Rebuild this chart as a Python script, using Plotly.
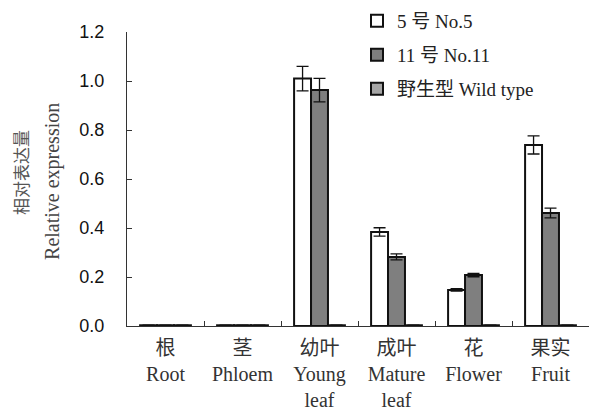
import plotly.graph_objects as go

# Tissue categories (Chinese / English)
categories = ["根<br>Root", "茎<br>Phloem", "幼叶<br>Young<br>leaf",
              "成叶<br>Mature<br>leaf", "花<br>Flower", "果实<br>Fruit"]

# Relative expression per line, with standard errors
no5_values = [0.003, 0.003, 1.01, 0.384, 0.147, 0.739]
no5_errors = [0.0, 0.0, 0.05, 0.017, 0.005, 0.037]
no11_values = [0.003, 0.003, 0.963, 0.282, 0.208, 0.461]
no11_errors = [0.0, 0.0, 0.048, 0.012, 0.007, 0.02]
wild_values = [0.003, 0.003, 0.003, 0.003, 0.003, 0.003]
wild_errors = [0.0, 0.0, 0.0, 0.0, 0.0, 0.0]

y_ticks = [0.0, 0.2, 0.4, 0.6, 0.8, 1.0, 1.2]

series = [
    ("5 号 No.5", no5_values, no5_errors, "#ffffff", "legend"),
    ("11 号 No.11", no11_values, no11_errors, "#7f7f7f", "legend2"),
    ("野生型 Wild type", wild_values, wild_errors, "#a6a6a6", "legend3"),
]

serif = "Liberation Serif, Times New Roman, Noto Sans CJK SC, serif"
sans = "Liberation Sans, Arial, sans-serif"
W, H = 592, 411
ML, MR, MT, MB = 127, 3, 32, 85
PW, PH = W - ML - MR, H - MT - MB

fig = go.Figure()
for name, vals, errs, color, leg in series:
    fig.add_trace(go.Bar(
        name=name, x=categories, y=vals, legend=leg,
        marker=dict(color=color, line=dict(color="#111111", width=2)),
        error_y=dict(type="data", array=errs, color="#111111",
                     thickness=1.3, width=6, visible=True),
    ))

# one legend box per series, stacked with wide spacing (pixel rows)
legend_rows = [21, 55, 89]


def legend_box(row_y):
    return dict(x=(357 - ML) / PW, y=(H - MB - row_y) / PH,
                xanchor="left", yanchor="middle",
                font=dict(family=serif, size=19, color="#222222"),
                bgcolor="rgba(0,0,0,0)", itemwidth=30)


fig.update_layout(
    width=W, height=H,
    margin=dict(l=ML, r=MR, t=MT, b=MB, autoexpand=False),
    paper_bgcolor="white", plot_bgcolor="white",
    barmode="group", bargap=0.34, bargroupgap=0,
    showlegend=True,
    legend=legend_box(legend_rows[0]),
    legend2=legend_box(legend_rows[1]),
    legend3=legend_box(legend_rows[2]),
    xaxis=dict(
        type="category", tickson="boundaries", automargin=False,
        ticks="inside", ticklen=5, tickcolor="#333333",
        showline=True, linecolor="#333333", linewidth=1,
        showgrid=False, ticklabelstandoff=4, tickangle=0,
        tickfont=dict(family=serif, size=20, color="#333333"),
    ),
    yaxis=dict(
        range=[0, 1.2], tickvals=y_ticks, automargin=False,
        ticktext=[f"{v:.1f}" for v in y_ticks],
        ticks="inside", ticklen=5, tickcolor="#333333",
        showline=True, linecolor="#333333", linewidth=1,
        showgrid=False, zeroline=False, ticklabelstandoff=18,
        tickfont=dict(family=sans, size=18, color="#111111"),
    ),
    annotations=[
        dict(text="相对表达量", textangle=-90, showarrow=False,
             xref="paper", yref="paper", x=(22 - ML) / PW, y=0.52,
             xanchor="center", yanchor="middle",
             font=dict(family=serif, size=17, color="#555555")),
        dict(text="Relative expression", textangle=-90, showarrow=False,
             xref="paper", yref="paper", x=(53 - ML) / PW, y=0.49,
             xanchor="center", yanchor="middle",
             font=dict(family=serif, size=20, color="#444444")),
    ],
)

fig.write_html("out.html")
